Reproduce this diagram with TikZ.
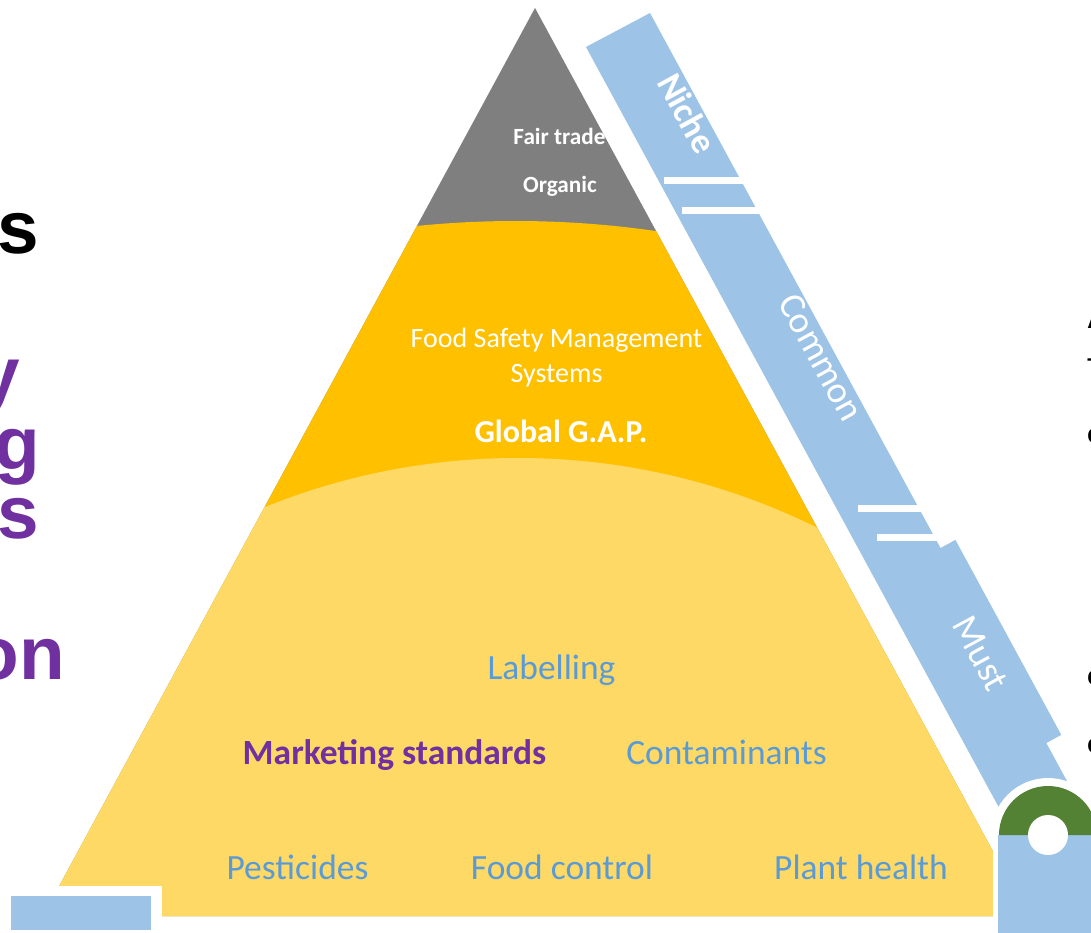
\documentclass[tikz,border=0pt]{standalone}
\usepackage{fontspec}
\setmainfont{Carlito}
\newfontfamily\headfont{Liberation Sans}
\usepackage{tikz}

\definecolor{greyTop}{HTML}{7F7F7F}
\definecolor{goldMid}{HTML}{FFC000}
\definecolor{sandLow}{HTML}{FFD966}
\definecolor{barBlue}{HTML}{9DC3E6}
\definecolor{txtBlue}{HTML}{5B9BD5}
\definecolor{mktPurple}{HTML}{7030A0}
\definecolor{ringGreen}{HTML}{548235}

\tikzstyle{toptext} = [inner sep=0pt, anchor=base, text=white, font=\bfseries\fontsize{17.4}{20}\selectfont]
\tikzstyle{midtext} = [inner sep=0pt, anchor=base, text=white, font=\fontsize{21}{25}\selectfont]
\tikzstyle{lowtext} = [inner sep=0pt, anchor=base, text=txtBlue, font=\fontsize{26.6}{32}\selectfont]
\tikzstyle{bartext} = [inner sep=0pt, text=white, rotate=-61.5, font=\fontsize{28}{32}\selectfont]
\tikzstyle{sidetext} = [inner sep=0pt, anchor=base east, font=\headfont\bfseries\fontsize{56}{60}\selectfont]
\tikzstyle{edgetext} = [inner sep=0pt, anchor=base west, font=\headfont\bfseries\fontsize{16}{18}\selectfont]
\tikzstyle{breakmark} = [white, line width=5.25pt]

\newcommand{\pyramid}{(535,8) -- (43,916) -- (1028,916) -- cycle}

\begin{document}
\begin{tikzpicture}[x=0.75pt,y=-0.75pt]
\fill[white] (0,0) rectangle (1091,932);
\useasboundingbox (0,0) rectangle (1091,932);

% pyramid tiers
\fill[greyTop] \pyramid;
\begin{scope}
\clip \pyramid;
\fill[goldMid] (515.6,1193) circle (972);
\fill[sandLow] (518,1133) circle (675);
\end{scope}

% slanted scale bar
\fill[barBlue] (937.9,549.4) -- (955.4,539.9) -- (1061.3,734.9) -- (1043.8,744.4) -- cycle;
\fill[barBlue] (586,47) -- (650,13) -- (1079.4,803.9) -- (1015.4,837.9) -- cycle;
\draw[breakmark] (664,180.5) -- (750,180.5);
\draw[breakmark] (682,210.5) -- (765,210.5);
\draw[breakmark] (858,508) -- (925,508);
\draw[breakmark] (877,537.5) -- (945,537.5);

% corner pieces
\fill[white] (993,835) rectangle (1100,940);
\fill[white] (1048,835) circle (57);
\fill[barBlue] (998,835) rectangle (1100,940);
\fill[ringGreen] (999,835) arc (180:360:49) -- cycle;
\fill[white] (1048,835) circle (20);
\fill[white] (0,886) rectangle (162,940);
\fill[barBlue] (11,896) rectangle (151,930);

\node (fairT) [toptext] at (559.5,144) {Fair trade};
\node (organic) [toptext] at (560,192) {Organic};

\node (fsms) [midtext] at (556.5,347) {Food Safety Management};
\node (systems) [midtext] at (556.5,382) {Systems};
\node (gap) [midtext, font=\bfseries\fontsize{24}{28}\selectfont] at (561,442) {Global G.A.P.};

\node (labelling) [lowtext] at (551.5,679) {Labelling};
\node (mktStd) [lowtext, text=mktPurple, font=\bfseries\fontsize{26.6}{32}\selectfont] at (394.5,764) {Marketing standards};
\node (contam) [lowtext] at (726.5,764) {Contaminants};
\node (pest) [lowtext] at (297.5,879) {Pesticides};
\node (foodC) [lowtext] at (562,879) {Food control};
\node (plantH) [lowtext] at (861,879) {Plant health};

\node (niche) [bartext, font=\bfseries\fontsize{27}{32}\selectfont] at (687.5,113.5) {Niche};
\node (common) [bartext] at (821,357.5) {Common};
\node (must) [bartext] at (980.5,653.5) {Must};

\node (sideA) [sidetext] at (39,253) {s};
\node (sideB) [sidetext, text=mktPurple] at (20,399) {y};
\node (sideC) [sidetext, text=mktPurple] at (40,469) {g};
\node (sideD) [sidetext, text=mktPurple] at (39,538) {s};
\node (sideE) [sidetext, text=mktPurple] at (65,679) {on};

\node (edgeA) [edgetext] at (1087,328) {A};
\node (edgeB) [edgetext] at (1087,373) {T};
\node (edgeC) [edgetext] at (1087,443) {C};
\node (edgeD) [edgetext] at (1087,685) {C};
\node (edgeE) [edgetext] at (1087,753) {C};
\end{tikzpicture}
\end{document}
